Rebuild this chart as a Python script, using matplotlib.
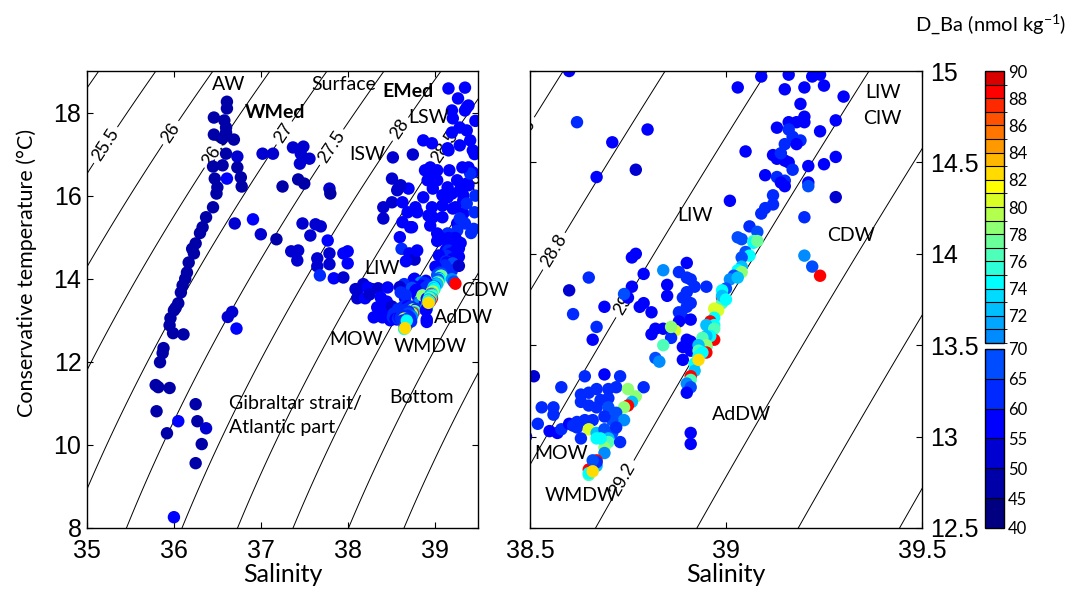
import numpy as np
import matplotlib
matplotlib.use("Agg")
import matplotlib.pyplot as plt
from matplotlib.colors import ListedColormap, BoundaryNorm
from matplotlib.cm import ScalarMappable

# ---------------------------------------------------------------------------
# Observations: (salinity, conservative temperature [degC], D_Ba [nmol/kg])
# ---------------------------------------------------------------------------
atlantic = [
    (36.61, 18.26, 47), (36.61, 18.10, 47), (36.46, 17.88, 46), (36.58, 17.81, 47),
    (36.60, 17.64, 47), (36.46, 17.47, 47), (36.60, 17.52, 46), (36.69, 17.35, 48),
    (36.56, 17.38, 47), (36.60, 17.01, 47), (36.73, 16.94, 50), (36.73, 16.68, 49),
    (36.45, 16.70, 46), (36.56, 16.73, 47), (36.61, 16.41, 56), (36.47, 16.41, 47),
    (36.77, 16.44, 48), (36.78, 16.22, 48), (36.50, 16.20, 47), (36.49, 16.05, 47),
    (36.45, 15.72, 47), (36.37, 15.48, 48), (36.33, 15.24, 47), (36.30, 15.10, 47),
    (36.25, 14.85, 48), (36.21, 14.72, 47), (36.23, 14.61, 47), (36.17, 14.39, 47),
    (36.15, 14.15, 47), (36.13, 14.00, 47), (36.10, 13.84, 47), (36.08, 13.67, 47),
    (36.05, 13.41, 47), (36.02, 13.30, 47), (36.00, 13.24, 47), (35.96, 13.05, 47),
    (35.95, 12.88, 47), (36.62, 13.08, 50), (36.67, 13.20, 50), (36.72, 12.80, 55),
    (35.99, 12.69, 47), (36.11, 12.66, 48), (35.88, 12.33, 47), (35.87, 12.21, 47),
    (35.84, 11.99, 47), (35.79, 11.44, 48), (35.82, 11.39, 48), (35.95, 11.37, 48),
    (35.80, 10.81, 47), (36.05, 10.57, 56), (35.92, 10.28, 48), (36.25, 10.98, 48),
    (36.27, 10.57, 48), (36.37, 10.40, 50), (36.32, 10.02, 48), (36.25, 9.56, 48),
    (36.00, 8.26, 57),
]

western_mix = [
    (37.02, 17.01, 50), (37.14, 17.01, 50), (37.37, 17.16, 50), (37.49, 17.18, 50),
    (37.46, 17.01, 50), (37.56, 16.89, 52), (37.45, 16.77, 50), (37.43, 16.39, 48),
    (37.50, 16.29, 48), (37.25, 16.22, 48), (37.79, 16.17, 50), (37.80, 16.05, 48),
    (36.70, 15.33, 52), (36.91, 15.43, 56), (37.00, 15.07, 50), (37.18, 14.95, 48),
    (37.48, 15.33, 52), (37.63, 15.31, 50), (37.69, 15.26, 50), (37.57, 15.04, 52),
    (37.77, 14.92, 56), (37.35, 14.66, 52), (37.43, 14.68, 52), (37.42, 14.44, 52),
    (37.65, 14.49, 52), (37.65, 14.30, 50), (37.79, 14.61, 52), (37.79, 14.35, 52),
    (38.00, 14.66, 55), (37.95, 14.61, 55), (38.00, 14.37, 55), (37.68, 14.08, 60),
    (37.84, 14.01, 55), (37.95, 14.03, 52),
]

transition = [
    (38.09, 13.75, 50), (38.18, 13.87, 52), (38.28, 13.75, 50), (38.11, 13.72, 52),
    (38.23, 13.79, 55), (38.35, 13.77, 52), (38.46, 13.79, 55), (38.11, 13.53, 52),
    (38.20, 13.53, 55), (38.34, 13.31, 55), (38.30, 13.07, 58), (38.40, 13.07, 58),
    (38.49, 13.00, 58), (38.43, 13.24, 55), (38.25, 13.62, 52), (38.38, 13.55, 55),
    (38.45, 13.45, 58),
]

eastern_surface = [
    (38.52, 16.92, 50), (38.75, 16.99, 52), (38.51, 16.41, 52), (38.58, 16.17, 50),
    (38.70, 16.17, 58), (38.41, 15.72, 52), (38.51, 15.84, 52), (38.41, 15.45, 52),
    (38.63, 15.84, 55), (38.78, 15.72, 55), (38.69, 15.60, 55), (38.87, 15.96, 55),
    (38.98, 16.17, 55), (38.89, 16.61, 55), (38.98, 16.53, 55), (38.87, 17.33, 55),
    (38.97, 17.26, 55), (39.15, 17.14, 55), (39.17, 16.61, 55), (38.63, 15.36, 55),
    (38.74, 15.24, 55), (38.95, 15.28, 58), (38.98, 15.48, 55), (39.09, 15.76, 58),
    (39.21, 15.69, 58), (39.33, 15.88, 58), (39.16, 18.58, 55), (39.35, 18.60, 55),
    (39.27, 18.34, 55), (39.39, 18.17, 55), (39.20, 18.05, 55), (39.35, 18.05, 55),
    (39.21, 17.86, 58), (39.29, 17.64, 58), (39.37, 17.57, 55), (39.20, 17.52, 58),
    (39.44, 17.09, 55), (39.39, 16.68, 58), (39.44, 16.56, 58), (39.39, 16.25, 58),
    (39.29, 16.13, 58), (39.15, 15.96, 55), (39.33, 15.57, 58), (39.26, 15.33, 58),
    (39.37, 18.12, 55), (39.41, 17.33, 58), (39.29, 17.21, 55), (39.16, 17.09, 55),
    (39.03, 16.61, 55), (38.95, 16.68, 55), (38.92, 16.37, 55), (39.03, 16.37, 55),
    (39.15, 16.20, 55), (39.26, 16.37, 58), (39.37, 16.29, 58), (39.41, 16.53, 60),
    (39.32, 16.68, 58), (38.61, 16.25, 50), (38.57, 16.13, 52), (39.09, 16.01, 58),
    (39.20, 16.05, 58), (39.33, 16.01, 58), (39.37, 15.81, 60), (39.24, 15.72, 58),
    (38.97, 15.72, 58), (38.80, 15.60, 55), (38.93, 15.52, 58), (39.09, 15.48, 58),
    (39.29, 15.45, 60), (39.35, 15.33, 60), (39.26, 15.16, 60), (39.15, 15.09, 60),
    (39.03, 15.09, 58), (38.72, 15.24, 55), (39.47, 17.80, 58), (39.46, 17.00, 58),
    (39.47, 16.00, 60), (39.46, 15.60, 60), (39.45, 15.20, 60), (39.42, 15.10, 62),
]

intermediate = [
    (38.60, 15.00, 55), (38.62, 14.72, 60), (38.71, 14.61, 55), (38.77, 14.46, 50),
    (38.67, 14.42, 58), (38.80, 14.68, 58), (39.03, 14.91, 58), (39.09, 14.97, 58),
    (39.16, 14.98, 58), (39.22, 14.97, 58), (39.24, 14.98, 58), (39.15, 14.90, 55),
    (39.20, 14.91, 55), (39.25, 14.92, 58), (39.30, 14.86, 58), (39.19, 14.82, 58),
    (39.16, 14.72, 58), (39.18, 14.72, 58), (39.20, 14.75, 58), (39.20, 14.72, 58),
    (39.13, 14.69, 55), (39.16, 14.68, 60), (39.17, 14.64, 62), (39.19, 14.62, 62),
    (39.15, 14.60, 62), (39.18, 14.60, 58), (39.24, 14.67, 58), (39.28, 14.73, 58),
    (39.12, 14.54, 58), (39.13, 14.52, 58), (39.15, 14.51, 58), (39.16, 14.50, 58),
    (39.17, 14.46, 62), (39.14, 14.55, 62), (39.05, 14.56, 58), (39.21, 14.48, 58),
    (39.25, 14.49, 58), (39.28, 14.53, 58), (39.10, 14.43, 58), (39.13, 14.42, 62),
    (39.15, 14.40, 62), (39.14, 14.39, 58), (39.15, 14.37, 58), (39.21, 14.39, 58),
    (39.21, 14.37, 66), (39.12, 14.32, 62), (39.12, 14.27, 62), (39.10, 14.25, 62),
    (39.09, 14.22, 62), (39.01, 14.29, 58), (39.20, 14.20, 64), (39.28, 14.31, 50),
    (39.06, 14.15, 62), (39.08, 14.12, 65), (39.03, 14.09, 68), (39.04, 14.08, 66),
    (39.07, 14.07, 76), (39.07, 14.06, 74), (39.08, 14.07, 77), (39.05, 14.01, 66),
    (39.06, 13.99, 74), (39.04, 13.98, 66), (39.04, 13.93, 72), (39.03, 13.91, 74),
    (39.04, 13.90, 78), (39.02, 13.88, 66), (39.01, 13.86, 70), (39.03, 13.87, 72),
    (39.00, 13.81, 68), (39.20, 13.99, 70), (39.22, 13.93, 68), (39.24, 13.88, 88),
]

upper_mix = [
    (38.77, 14.00, 58), (38.76, 13.98, 58), (38.79, 13.89, 55), (38.65, 13.87, 62),
    (38.60, 13.80, 52), (38.90, 13.95, 58), (38.84, 13.91, 70), (38.88, 13.90, 62),
    (38.90, 13.87, 62), (38.91, 13.86, 62), (38.95, 13.82, 62), (38.76, 13.82, 58),
    (38.85, 13.83, 55), (38.85, 13.77, 58), (38.90, 13.79, 62), (38.89, 13.76, 60),
    (38.91, 13.73, 62), (38.90, 13.71, 62), (38.88, 13.68, 62), (38.69, 13.71, 55),
    (38.75, 13.76, 55), (38.74, 13.78, 68), (38.79, 13.73, 55), (38.78, 13.71, 55),
    (38.81, 13.68, 55), (38.89, 13.65, 62), (38.91, 13.64, 58), (38.88, 13.63, 55),
    (38.82, 13.59, 58), (38.84, 13.59, 55), (38.87, 13.58, 80), (38.81, 13.56, 58),
    (38.86, 13.54, 62), (38.84, 13.50, 76), (38.90, 13.53, 58), (38.89, 13.49, 55),
    (38.91, 13.47, 55), (38.82, 13.43, 66), (38.83, 13.41, 70), (38.89, 13.42, 58),
    (38.92, 13.82, 62), (38.86, 13.60, 78), (38.91, 13.52, 58), (38.66, 13.53, 58),
    (38.67, 13.60, 60), (38.61, 13.67, 62), (38.91, 13.02, 58), (38.91, 12.96, 58),
]

deep_west = [
    (38.51, 13.33, 52), (38.53, 13.16, 60), (38.56, 13.16, 60), (38.56, 13.12, 62),
    (38.58, 13.27, 60), (38.52, 13.07, 60), (38.55, 13.03, 58), (38.57, 13.02, 58),
    (38.58, 13.04, 60), (38.60, 13.07, 58), (38.62, 13.08, 60), (38.64, 13.33, 60),
    (38.69, 13.34, 55), (38.73, 13.33, 60), (38.63, 13.23, 62), (38.65, 13.24, 62),
    (38.67, 13.26, 60), (38.70, 13.26, 62), (38.72, 13.27, 60), (38.75, 13.26, 78),
    (38.79, 13.27, 60), (38.77, 13.22, 78), (38.76, 13.19, 72), (38.75, 13.17, 88),
    (38.74, 13.16, 78), (38.63, 13.19, 62), (38.65, 13.17, 60), (38.68, 13.20, 62),
    (38.70, 13.21, 62), (38.67, 13.16, 62), (38.70, 13.16, 66), (38.72, 13.13, 66),
    (38.74, 13.09, 70), (38.71, 13.09, 66), (38.69, 13.11, 62), (38.66, 13.09, 64),
    (38.64, 13.09, 60), (38.62, 13.05, 62), (38.61, 13.06, 60), (38.65, 13.04, 80),
    (38.67, 13.02, 72), (38.69, 13.04, 66), (38.71, 13.02, 66), (38.70, 12.99, 72),
    (38.67, 12.99, 74), (38.63, 12.99, 60), (38.70, 12.97, 76), (38.69, 12.94, 78),
    (38.69, 12.91, 70), (38.67, 12.87, 88), (38.67, 12.84, 72), (38.65, 12.82, 88),
    (38.65, 12.79, 76), (38.67, 12.86, 64), (38.65, 12.80, 74), (38.66, 12.87, 66),
    (38.72, 13.05, 64), (38.73, 12.97, 62), (38.68, 12.99, 74), (38.66, 12.81, 82),
]

deep_core = [
    (38.99, 13.76, 88), (38.99, 13.73, 76), (38.97, 13.70, 80), (38.99, 13.80, 74),
    (38.99, 13.77, 72), (39.00, 13.75, 74), (38.98, 13.69, 80), (38.97, 13.65, 74),
    (38.96, 13.63, 88), (38.97, 13.61, 74), (38.95, 13.61, 72), (38.97, 13.59, 76),
    (38.97, 13.53, 88), (38.96, 13.55, 74), (38.95, 13.55, 72), (38.94, 13.54, 76),
    (38.95, 13.49, 74), (38.95, 13.50, 78), (38.93, 13.50, 72), (38.93, 13.47, 76),
    (38.95, 13.46, 88), (38.94, 13.46, 74), (38.93, 13.44, 74), (38.92, 13.40, 74),
    (38.92, 13.36, 72), (38.91, 13.33, 88), (38.91, 13.31, 76), (38.90, 13.29, 70),
    (38.91, 13.27, 66), (38.90, 13.24, 55), (38.93, 13.42, 82),
]

# Colour scale: coarse 5-unit steps below 70, 1-unit steps from 70 to 90
low_bounds = [40, 45, 50, 55, 60, 65, 70]
high_bounds = list(range(70, 91))
low_colors = [
    (0.00, 0.00, 0.50), (0.00, 0.00, 0.66), (0.00, 0.00, 0.82),
    (0.00, 0.00, 1.00), (0.00, 0.16, 1.00), (0.00, 0.30, 1.00),
]
high_colors = [
    (0.00, 0.55, 1.00), (0.00, 0.65, 1.00), (0.00, 0.75, 1.00), (0.00, 0.86, 1.00),
    (0.00, 1.00, 1.00), (0.18, 1.00, 0.85), (0.30, 1.00, 0.72), (0.42, 1.00, 0.60),
    (0.56, 1.00, 0.45), (0.70, 1.00, 0.30), (0.85, 1.00, 0.15), (1.00, 1.00, 0.00),
    (1.00, 0.86, 0.00), (1.00, 0.72, 0.00), (1.00, 0.60, 0.00), (1.00, 0.46, 0.00),
    (1.00, 0.32, 0.00), (1.00, 0.16, 0.00), (1.00, 0.00, 0.00), (0.85, 0.00, 0.00),
]
cmap_all = ListedColormap(low_colors + high_colors)
norm_all = BoundaryNorm(low_bounds + high_bounds[1:], cmap_all.N)

plt.rcParams["font.family"] = ["Liberation Sans", "DejaVu Sans"]
plt.rcParams["mathtext.fontset"] = "custom"
plt.rcParams["mathtext.rm"] = "Lato"
TEXT_FONT = ["Lato", "DejaVu Sans"]


def sigma0(sa, ct):
    """Potential density anomaly (kg m-3) at the surface, EOS-80 polynomial."""
    s = sa / 1.00471
    t = ct
    rho_w = (999.842594 + 6.793952e-2 * t - 9.095290e-3 * t ** 2
             + 1.001685e-4 * t ** 3 - 1.120083e-6 * t ** 4 + 6.536332e-9 * t ** 5)
    a = (0.824493 - 4.0899e-3 * t + 7.6438e-5 * t ** 2
         - 8.2467e-7 * t ** 3 + 5.3875e-9 * t ** 4)
    b = -5.72466e-3 + 1.0227e-4 * t - 1.6546e-6 * t ** 2
    return rho_w + a * s + b * s ** 1.5 + 4.8314e-4 * s ** 2 - 1000.0


def align_labels(ax, labels):
    """Rotate each contour label along the local isopycnal, in screen space."""
    for t in labels:
        x, y = t.get_position()
        h = 1e-3
        d_s = (sigma0(x + h, y) - sigma0(x - h, y)) / (2 * h)
        d_t = (sigma0(x, y + h) - sigma0(x, y - h)) / (2 * h)
        p0 = ax.transData.transform((x, y))
        p1 = ax.transData.transform((x - d_t * 1e-2, y + d_s * 1e-2))
        ang = np.degrees(np.arctan2(p1[1] - p0[1], p1[0] - p0[0]))
        if ang > 90:
            ang -= 180
        elif ang < -90:
            ang += 180
        t.set_transform_rotates_text(False)
        t.set_rotation(ang)


pts = np.array(atlantic + western_mix + transition + eastern_surface
               + intermediate + upper_mix + deep_west + deep_core)
sal, temp, dba = pts[:, 0], pts[:, 1], pts[:, 2]

sg = np.linspace(34.0, 40.5, 500)
tg = np.linspace(6.0, 21.0, 500)
SG, TG = np.meshgrid(sg, tg)
SIG = sigma0(SG, TG)

fig = plt.figure(figsize=(10.8, 6.08), dpi=100)
ax1 = fig.add_axes([0.0806, 0.1316, 0.3620, 0.7516])
ax2 = fig.add_axes([0.4907, 0.1316, 0.3630, 0.7516])

# limits first, so that contour labels are laid out in final screen space
ax1.set_xlim(35, 39.5)
ax1.set_ylim(8, 19)
ax2.set_xlim(38.5, 39.5)
ax2.set_ylim(12.5, 15)

panels = [
    (ax1, [25.0, 29.5, 30.0],
     [25.5, 26.0, 26.5, 27.0, 27.5, 28.0, 28.5, 29.0],
     [(35.22, 17.21), (35.96, 17.52), (36.50, 17.09), (37.26, 17.52),
      (37.82, 17.16), (38.63, 17.57), (39.16, 17.13), (39.47, 16.29)]),
    (ax2, [28.2, 28.4, 29.4, 29.6, 29.8, 30.0],
     [28.6, 28.8, 29.0, 29.2],
     [(38.51, 14.61), (38.58, 13.99), (38.76, 13.69), (38.76, 12.74)]),
]

for ax, plain_levels, lab_levels, lab_pos in panels:
    ax.contour(SG, TG, SIG, levels=plain_levels, colors="k",
               linewidths=0.7, zorder=1)
    cs = ax.contour(SG, TG, SIG, levels=lab_levels, colors="k",
                    linewidths=0.7, zorder=1)
    labels = ax.clabel(cs, inline=True, inline_spacing=4,
                       fmt=lambda v: f"{v:g}", fontsize=13, manual=lab_pos)
    align_labels(ax, labels)
    for t in labels:
        t.set_clip_path(ax.patch)
        t.set_clip_on(True)
        t.set_zorder(2)
    ax.scatter(sal, temp, c=dba, cmap=cmap_all, norm=norm_all, s=80,
               edgecolors="none", zorder=3)
    for sp in ax.spines.values():
        sp.set_linewidth(1.0)
        sp.set_zorder(6)
    ax.set_autoscale_on(False)

ax1.set_xlim(35, 39.5)
ax1.set_ylim(8, 19)
ax1.set_xticks([35, 36, 37, 38, 39])
ax1.set_yticks([8, 10, 12, 14, 16, 18])
ax1.tick_params(direction="in", top=True, right=True, length=4, width=0.8,
                labelsize=18)
ax1.tick_params(axis="x", pad=8)
ax1.tick_params(axis="y", pad=4)

ax2.set_xlim(38.5, 39.5)
ax2.set_ylim(12.5, 15)
ax2.set_xticks([38.5, 39, 39.5])
ax2.set_yticks([12.5, 13, 13.5, 14, 14.5, 15])
ax2.set_xticklabels(["38.5", "39", "39.5"])
ax2.set_yticklabels(["12.5", "13", "13.5", "14", "14.5", "15"])
ax2.tick_params(direction="in", top=True, right=True, left=True, length=4,
                width=0.8, labelsize=18, labelleft=False, labelright=True)
ax2.tick_params(axis="x", pad=8)
ax2.tick_params(axis="y", pad=6)

# water-mass annotations
tkw = dict(family=TEXT_FONT, fontsize=14, zorder=5, ha="center", va="center")
ax1.text(36.63, 18.67, "AW", **tkw)
ax1.text(37.95, 18.67, "Surface", **tkw)
ax1.text(38.69, 18.50, "EMed", fontweight="bold", **tkw)
ax1.text(37.17, 18.00, "WMed", fontweight="bold", **tkw)
ax1.text(38.93, 17.88, "LSW", **tkw)
ax1.text(38.23, 16.99, "ISW", **tkw)
ax1.text(38.40, 14.25, "LIW", **tkw)
ax1.text(39.58, 13.72, "CDW", **tkw)
ax1.text(39.33, 13.07, "AdDW", **tkw)
ax1.text(38.10, 12.54, "MOW", **tkw)
ax1.text(38.95, 12.38, "WMDW", **tkw)
ax1.text(38.85, 11.13, "Bottom", **tkw)
ax1.text(36.63, 11.00, "Gibraltar strait/", family=TEXT_FONT, fontsize=14,
         zorder=5, ha="left", va="center")
ax1.text(36.63, 10.43, "Atlantic part", family=TEXT_FONT, fontsize=14,
         zorder=5, ha="left", va="center")

ax2.text(39.40, 14.88, "LIW", **tkw)
ax2.text(39.40, 14.74, "CIW", **tkw)
ax2.text(38.92, 14.21, "LIW", **tkw)
ax2.text(39.32, 14.10, "CDW", **tkw)
ax2.text(39.04, 13.12, "AdDW", **tkw)
ax2.text(38.58, 12.91, "MOW", **tkw)
ax2.text(38.63, 12.68, "WMDW", **tkw)

# axis titles
fig.text(0.2616, 1 - 575 / 608, "Salinity", family=TEXT_FONT, fontsize=18,
         ha="center", va="center")
fig.text(0.6722, 1 - 575 / 608, "Salinity", family=TEXT_FONT, fontsize=18,
         ha="center", va="center")
fig.text(0.025, 1 - 273 / 608, "Conservative temperature (°C)",
         family=TEXT_FONT, fontsize=15.5, rotation=90, ha="center", va="center")

# split colour bar
cax_hi = fig.add_axes([0.912, 1 - 343 / 608, 0.0176, 272 / 608])
cax_lo = fig.add_axes([0.912, 0.1316, 0.0176, 179 / 608])
cb_hi = fig.colorbar(
    ScalarMappable(norm=BoundaryNorm(high_bounds, len(high_colors)),
                   cmap=ListedColormap(high_colors)),
    cax=cax_hi, drawedges=True, ticks=list(range(72, 91, 2)))
cb_lo = fig.colorbar(
    ScalarMappable(norm=BoundaryNorm(low_bounds, len(low_colors)),
                   cmap=ListedColormap(low_colors)),
    cax=cax_lo, drawedges=True, ticks=low_bounds)
for cb in (cb_hi, cb_lo):
    cb.outline.set_linewidth(1.0)
    cb.dividers.set_linewidth(0.8)
    cb.dividers.set_color("k")
    cb.ax.tick_params(length=0, pad=3, labelsize=12)
    for lbl in cb.ax.get_yticklabels():
        lbl.set_fontfamily(TEXT_FONT)

fig.text(0.917, 1 - 25 / 608, "D_Ba (nmol kg$^{-1}$)", family=TEXT_FONT,
         fontsize=14.5, ha="center", va="center")

fig.savefig("out.png", dpi=100)
